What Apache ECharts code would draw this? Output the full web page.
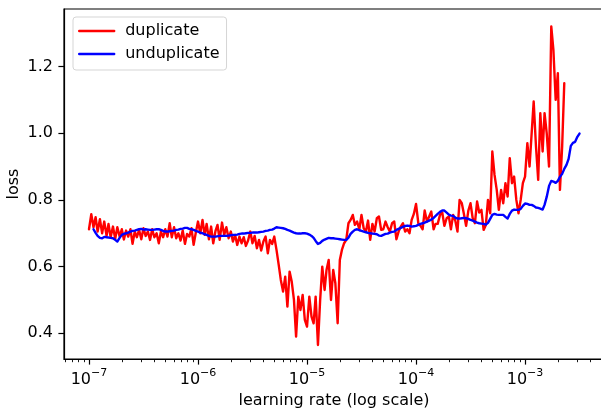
<!DOCTYPE html>
<html>
<head>
<meta charset="utf-8">
<script src="https://cdn.jsdelivr.net/npm/echarts@6/dist/echarts.min.js"></script>
<style>html,body{margin:0;padding:0;background:#fff;}#c{width:601px;height:409px;}</style>
</head>
<body>
<div id="c"></div>
<script>
const lr = [
1.00e-7,1.05e-7,1.10e-7,1.15e-7,1.20e-7,1.26e-7,1.32e-7,1.38e-7,1.45e-7,1.51e-7,1.58e-7,1.66e-7,1.74e-7,1.82e-7,1.91e-7,2.00e-7,2.09e-7,2.19e-7,2.29e-7,2.40e-7,2.51e-7,2.63e-7,2.75e-7,2.88e-7,3.02e-7,3.16e-7,3.31e-7,3.47e-7,3.63e-7,3.80e-7,3.98e-7,4.17e-7,4.37e-7,4.57e-7,4.79e-7,5.01e-7,5.25e-7,5.50e-7,5.75e-7,6.03e-7,6.31e-7,6.61e-7,6.92e-7,7.24e-7,7.59e-7,7.94e-7,8.32e-7,8.71e-7,9.12e-7,9.55e-7,
1.00e-6,1.05e-6,1.10e-6,1.15e-6,1.20e-6,1.26e-6,1.32e-6,1.38e-6,1.45e-6,1.51e-6,1.58e-6,1.66e-6,1.74e-6,1.82e-6,1.91e-6,2.00e-6,2.09e-6,2.19e-6,2.29e-6,2.40e-6,2.51e-6,2.63e-6,2.75e-6,2.88e-6,3.02e-6,3.16e-6,3.31e-6,3.47e-6,3.63e-6,3.80e-6,3.98e-6,4.17e-6,4.37e-6,4.57e-6,4.79e-6,5.01e-6,5.25e-6,5.50e-6,5.75e-6,6.03e-6,6.31e-6,6.61e-6,6.92e-6,7.24e-6,7.59e-6,7.94e-6,8.32e-6,8.71e-6,9.12e-6,9.55e-6,
1.00e-5,1.05e-5,1.10e-5,1.15e-5,1.20e-5,1.26e-5,1.32e-5,1.38e-5,1.45e-5,1.51e-5,1.58e-5,1.66e-5,1.74e-5,1.82e-5,1.91e-5,2.00e-5,2.09e-5,2.19e-5,2.29e-5,2.40e-5,2.51e-5,2.63e-5,2.75e-5,2.88e-5,3.02e-5,3.16e-5,3.31e-5,3.47e-5,3.63e-5,3.80e-5,3.98e-5,4.17e-5,4.37e-5,4.57e-5,4.79e-5,5.01e-5,5.25e-5,5.50e-5,5.75e-5,6.03e-5,6.31e-5,6.61e-5,6.92e-5,7.24e-5,7.59e-5,7.94e-5,8.32e-5,8.71e-5,9.12e-5,9.55e-5,
1.00e-4,1.05e-4,1.10e-4,1.15e-4,1.20e-4,1.26e-4,1.32e-4,1.38e-4,1.45e-4,1.51e-4,1.58e-4,1.66e-4,1.74e-4,1.82e-4,1.91e-4,2.00e-4,2.09e-4,2.19e-4,2.29e-4,2.40e-4,2.51e-4,2.63e-4,2.75e-4,2.88e-4,3.02e-4,3.16e-4,3.31e-4,3.47e-4,3.63e-4,3.80e-4,3.98e-4,4.17e-4,4.37e-4,4.57e-4,4.79e-4,5.01e-4,5.25e-4,5.50e-4,5.75e-4,6.03e-4,6.31e-4,6.61e-4,6.92e-4,7.24e-4,7.59e-4,7.94e-4,8.32e-4,8.71e-4,9.12e-4,9.55e-4,
1.00e-3,1.05e-3,1.10e-3,1.15e-3,1.20e-3,1.26e-3,1.32e-3,1.38e-3,1.45e-3,1.51e-3,1.58e-3,1.66e-3,1.74e-3,1.82e-3,1.91e-3,2.00e-3,2.09e-3,2.19e-3,2.29e-3,2.40e-3,2.51e-3,2.63e-3,2.75e-3,2.88e-3,3.02e-3,3.16e-3
];

// loss, "duplicate" run
const lossDuplicate = [
0.712,0.757,0.718,0.748,0.705,0.742,0.700,0.735,0.692,0.728,
0.688,0.720,0.683,0.718,0.690,0.712,0.681,0.708,0.690,0.712,
0.668,0.705,0.688,0.710,0.682,0.715,0.692,0.705,0.680,0.712,
0.688,0.700,0.670,0.705,0.688,0.712,0.690,0.730,0.688,0.718,
0.685,0.700,0.678,0.708,0.668,0.698,0.690,0.715,0.665,0.702,
0.735,0.700,0.740,0.695,0.728,0.682,0.720,0.670,0.708,0.725,
0.680,0.732,0.695,0.718,0.685,0.705,0.675,0.695,0.665,0.690,
0.670,0.688,0.662,0.678,0.705,0.670,0.692,0.655,0.680,0.648,
0.675,0.690,0.640,0.680,0.668,0.690,0.650,0.605,0.560,0.525,
0.570,0.480,0.585,0.555,0.500,0.390,0.510,0.470,0.515,0.440,
0.420,0.510,0.450,0.430,0.510,0.365,0.500,0.600,0.530,0.590,
0.620,0.500,0.590,0.550,0.430,0.620,0.650,0.670,0.680,0.730,
0.740,0.755,0.725,0.735,0.712,0.755,0.715,0.705,0.738,0.680,
0.728,0.705,0.745,0.750,0.710,0.712,0.735,0.718,0.705,0.730,
0.735,0.682,0.705,0.720,0.730,0.705,0.712,0.700,0.740,0.758,
0.788,0.730,0.722,0.712,0.768,0.735,0.750,0.765,0.712,0.728,
0.728,0.755,0.762,0.722,0.745,0.750,0.712,0.755,0.738,0.705,
0.800,0.790,0.758,0.722,0.768,0.790,0.745,0.730,0.795,0.762,
0.770,0.710,0.725,0.800,0.760,0.945,0.875,0.830,0.770,0.830,
0.790,0.850,0.810,0.925,0.850,0.870,0.800,0.760,0.800,0.850,
0.870,0.970,0.900,1.000,1.095,0.960,0.860,1.060,0.945,1.060,
1.000,0.900,1.320,1.250,1.100,1.180,0.830,0.960,1.150
];

// loss, "unduplicate" run (starts slightly later)
const lossUnduplicate = [
null,null,
0.712,0.701,0.692,0.686,0.685,0.689,0.688,0.687,0.686,0.685,
0.680,0.675,0.686,0.695,0.698,0.700,0.702,0.705,0.707,0.708,
0.710,0.712,0.713,0.711,0.712,0.711,0.710,0.710,0.711,0.712,
0.712,0.710,0.707,0.705,0.705,0.706,0.707,0.708,0.710,0.711,
0.713,0.714,0.716,0.716,0.713,0.712,0.710,0.707,0.705,0.702,
0.700,0.697,0.695,0.692,0.690,0.690,0.690,0.691,0.692,0.692,
0.692,0.692,0.693,0.694,0.695,0.695,0.696,0.698,0.699,0.699,
0.700,0.701,0.701,0.702,0.702,0.702,0.703,0.704,0.705,0.707,
0.708,0.710,0.711,0.714,0.718,0.717,0.716,0.715,0.713,0.710,
0.708,0.705,0.702,0.700,0.699,0.699,0.700,0.700,0.699,0.696,
0.692,0.686,0.677,0.668,0.671,0.677,0.681,0.685,0.686,0.685,
0.685,0.684,0.683,0.682,0.681,0.680,0.680,0.687,0.698,0.705,
0.710,0.712,0.709,0.707,0.705,0.703,0.701,0.700,0.699,0.698,
0.697,0.693,0.692,0.695,0.698,0.699,0.702,0.704,0.705,0.710,
0.713,0.716,0.719,0.722,0.723,0.722,0.720,0.721,0.722,0.725,
0.728,0.730,0.732,0.735,0.738,0.741,0.746,0.750,0.758,0.764,
0.768,0.768,0.762,0.756,0.753,0.752,0.747,0.744,0.744,0.745,
0.746,0.745,0.743,0.740,0.738,0.735,0.732,0.730,0.729,0.728,
0.726,0.731,0.743,0.755,0.758,0.756,0.755,0.755,0.755,0.749,
0.744,0.758,0.768,0.771,0.770,0.770,0.773,0.782,0.789,0.788,
0.785,0.785,0.782,0.777,0.776,0.774,0.771,0.785,0.809,0.842,
0.857,0.855,0.851,0.857,0.869,0.878,0.893,0.905,0.923,0.962,
0.971,0.974,0.989,0.999
];

const seriesNames = ['duplicate', 'unduplicate'];
const xTickValues = [1e-7, 1e-6, 1e-5, 1e-4, 1e-3];
const xMinorTickValues = [
6e-8,7e-8,8e-8,9e-8,
2e-7,3e-7,4e-7,5e-7,6e-7,7e-7,8e-7,9e-7,
2e-6,3e-6,4e-6,5e-6,6e-6,7e-6,8e-6,9e-6,
2e-5,3e-5,4e-5,5e-5,6e-5,7e-5,8e-5,9e-5,
2e-4,3e-4,4e-4,5e-4,6e-4,7e-4,8e-4,9e-4,
2e-3,3e-3,4e-3,5e-3
];
const yTickValues = [0.4, 0.6, 0.8, 1.0, 1.2];

function pairs(xs, ys) {
  const out = [];
  for (let i = 0; i < ys.length; i++) {
    if (ys[i] != null) out.push([xs[i], ys[i]]);
  }
  return out;
}

const FONT = 'DejaVu Sans';
const FS = 16;
const LW = 2.4;
const chart = echarts.init(document.getElementById('c'), null, {renderer: 'canvas'});
const xMin = 5.9e-8, xMax = 5.3e-3;

chart.setOption({
  animation: false,
  backgroundColor: '#ffffff',
  textStyle: {fontFamily: FONT},
  grid: {
    left: 64, top: 9, width: 540, height: 350,
    show: true, borderColor: '#000', borderWidth: 1.2,
    containLabel: false, outerBoundsMode: 'none'
  },
  legend: {
    data: seriesNames,
    orient: 'vertical',
    left: 73, top: 17,
    padding: [6, 7, 8, 5],
    itemWidth: 35, itemHeight: 14, itemGap: 7,
    backgroundColor: 'rgba(255,255,255,0.8)',
    borderColor: '#d5d5d5', borderWidth: 1, borderRadius: 3,
    itemStyle: {color: 'rgba(0,0,0,0)', borderColor: 'rgba(0,0,0,0)', borderWidth: 0, opacity: 0},
    lineStyle: {width: LW},
    textStyle: {fontFamily: FONT, fontSize: FS, lineHeight: 16, color: '#000', padding: [0, 0, 0, 6]}
  },
  xAxis: [{
    type: 'log', logBase: 10, min: xMin, max: xMax,
    position: 'bottom',
    name: 'learning rate (log scale)', nameLocation: 'middle', nameGap: 34,
    nameMoveOverlap: false,
    nameTextStyle: {fontFamily: FONT, fontSize: FS, color: '#000'},
    axisLine: {show: true, lineStyle: {color: '#000', width: 1.2}},
    axisTick: {show: true, inside: false, length: 5.6, customValues: xTickValues, lineStyle: {color: '#000', width: 1.2}},
    axisLabel: {
      show: true, margin: 9, customValues: xTickValues,
      formatter: function (v) {
        const e = Math.round(Math.log10(v));
        return '{b|10}{s|' + (e < 0 ? '\u2212' + (-e) : String(e)) + '}';
      },
      rich: {
        b: {fontFamily: FONT, fontSize: FS, color: '#000', lineHeight: 20, verticalAlign: 'bottom'},
        s: {fontFamily: FONT, fontSize: 11, color: '#000', lineHeight: 9, verticalAlign: 'top'}
      }
    },
    splitLine: {show: false}
  }, {
    type: 'log', logBase: 10, min: xMin, max: xMax,
    position: 'bottom', gridIndex: 0,
    axisLine: {show: false},
    axisTick: {show: true, inside: false, length: 3.2, customValues: xMinorTickValues, lineStyle: {color: '#000', width: 0.9}},
    axisLabel: {show: false},
    splitLine: {show: false}
  }],
  yAxis: {
    type: 'value', min: 0.3229, max: 1.3724,
    name: 'loss', nameLocation: 'middle', nameGap: 42,
    nameMoveOverlap: false,
    nameTextStyle: {fontFamily: FONT, fontSize: FS, color: '#000'},
    axisLine: {show: true, lineStyle: {color: '#000', width: 1.2}},
    axisTick: {show: true, inside: false, length: 5.6, customValues: yTickValues, lineStyle: {color: '#000', width: 1.2}},
    axisLabel: {
      show: true, margin: 11, customValues: yTickValues,
      fontFamily: FONT, fontSize: FS, color: '#000',
      formatter: function (v) { return Number(v).toFixed(1); }
    },
    splitLine: {show: false}
  },
  series: [{
    name: seriesNames[0], type: 'line', xAxisIndex: 0,
    data: pairs(lr, lossDuplicate),
    symbol: 'none', showSymbol: false,
    lineStyle: {color: '#ff0000', width: LW, join: 'round', cap: 'round'},
    itemStyle: {color: '#ff0000'}
  }, {
    name: seriesNames[1], type: 'line', xAxisIndex: 0,
    data: pairs(lr, lossUnduplicate),
    symbol: 'none', showSymbol: false,
    lineStyle: {color: '#0000ff', width: LW, join: 'round', cap: 'round'},
    itemStyle: {color: '#0000ff'}
  }]
});
</script>
</body>
</html>
